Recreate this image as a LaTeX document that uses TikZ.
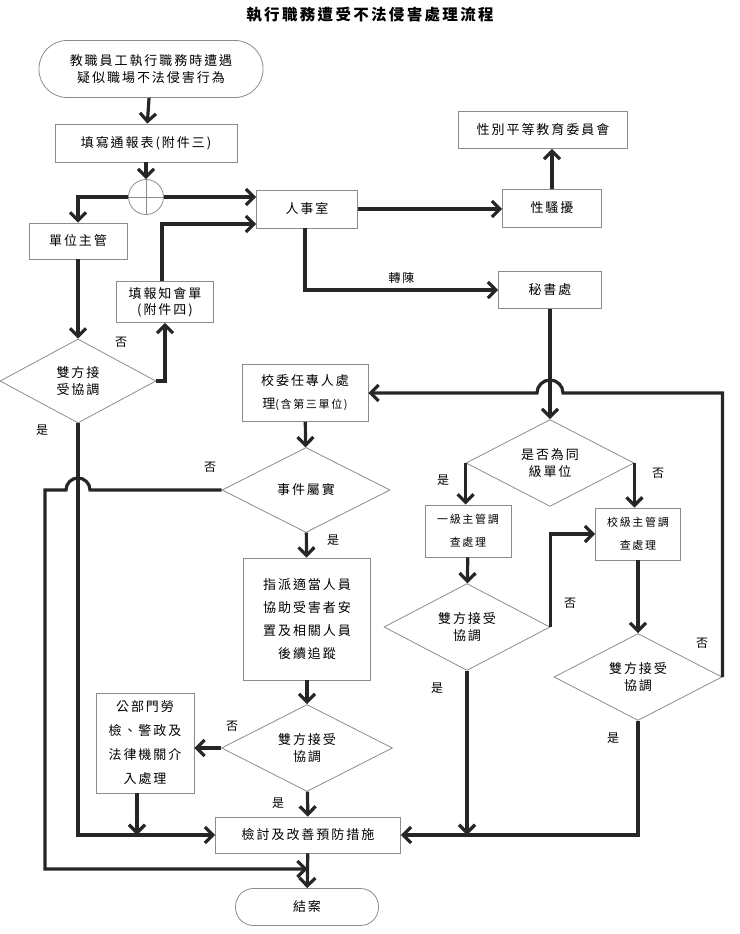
\documentclass[tikz,border=0pt]{standalone}
\usepackage{fontspec}
\setmainfont{Noto Sans CJK TC}[LetterSpace=15]
\usetikzlibrary{arrows.meta, shapes.geometric, calc}

\begin{document}
\begin{tikzpicture}[x=1pt, y=-1pt,
    box/.style={draw=black!45, line width=0.8pt, rectangle, align=center, inner sep=2pt, font=\fontsize{13}{17}\selectfont},
    term/.style={box, rounded corners=18pt},
    choice/.style={draw=black!45, line width=0.8pt, diamond, align=center, inner sep=0pt, font=\fontsize{13}{17}\selectfont},
    flow/.style={draw=black!85, line width=3.2pt, -{Straight Barb[length=8pt, width=16pt]}},
    tag/.style={font=\fontsize{12}{14}\selectfont}]
    \useasboundingbox (0,0) rectangle (739,934);

    % Title
    \node[font=\bfseries\fontsize{15.5}{18}\selectfont] (title) at (370,15) {執行職務遭受不法侵害處理流程};

    % Top part
    \node[term, rounded corners=28pt, minimum width=224, minimum height=57] (start) at (151,69) {教職員工執行職務時遭遇\\疑似職場不法侵害行為};
    \node[box, minimum width=182, minimum height=38] (report) at (146,143) {填寫通報表(附件三)};
    \node[circle, draw=black!45, line width=0.8pt, minimum size=35, inner sep=0pt] (sum) at (146,197) {};
    \draw[black!45, line width=0.8pt] (sum.north) -- (sum.south) (sum.west) -- (sum.east);
    \node[box, minimum width=98, minimum height=36] (unit) at (78,241) {單位主管};
    \node[box, minimum width=101, minimum height=38] (hr) at (307,209) {人事室};
    \node[box, minimum width=99, minimum height=38] (harass) at (552,208) {性騷擾};
    \node[box, minimum width=169, minimum height=37] (gec) at (543,130) {性別平等教育委員會};
    \node[box, minimum width=103, minimum height=37] (sec) at (550,290) {秘書處};
    \node[box, minimum width=97, minimum height=41, font=\fontsize{13}{16}\selectfont] (notify) at (165,302) {填報知會單\\(附件四)};
    \node[choice, minimum width=156, minimum height=84] (dec1) at (78,381) {雙方接\\受協調};

    % Middle column
    \node[box, minimum width=126, minimum height=57, font=\fontsize{13}{23}\selectfont] (school) at (305,393) {校委任專人處\\理{\fontsize{11}{23}\selectfont(含第三單位)}};
    \node[choice, minimum width=168, minimum height=85] (fact) at (306,490) {事件屬實};
    \node[box, minimum width=127, minimum height=122, font=\fontsize{13}{23}\selectfont] (assign) at (307,619) {指派適當人員\\協助受害者安\\置及相關人員\\後續追蹤};
    \node[choice, minimum width=171, minimum height=84] (dec3) at (307,748) {雙方接受\\協調};
    \node[box, minimum width=98, minimum height=100, font=\fontsize{13}{24}\selectfont] (public) at (145,743) {公部門勞\\檢、警政及\\法律機關介\\入處理};
    \node[box, minimum width=185, minimum height=36] (review) at (308,835) {檢討及改善預防措施};
    \node[term, minimum width=143, minimum height=37] (close) at (307,907) {結案};

    % Right part
    \node[choice, minimum width=168, minimum height=84] (same) at (550,463) {是否為同\\級單位};
    \node[box, minimum width=86, minimum height=52, font=\fontsize{11}{23}\selectfont] (lvl1) at (468,531) {一級主管調\\查處理};
    \node[box, minimum width=85, minimum height=52, font=\fontsize{11}{23}\selectfont] (lvlS) at (638,534) {校級主管調\\查處理};
    \node[choice, minimum width=166, minimum height=83] (dec4) at (467,627) {雙方接受\\協調};
    \node[choice, minimum width=168, minimum height=84] (dec5) at (638,677) {雙方接受\\協調};

    % Helper point
    \coordinate (tail) at ($(review.south)!0.45!(close.north)$);

    % Arrows
    \draw[flow] (start) -- (report);
    \draw[flow] (report) -- (sum);
    \draw[flow] (sum.west) -| (unit.north);
    \draw[flow] (sum.east) -- (sum.east -| hr.west);
    \draw[flow] (hr.east) -- (hr.east -| harass.west);
    \draw[flow] (harass.north) -- (harass.north |- gec.south);
    \draw[flow] ([xshift=-2pt]hr.south) |- node[tag, pos=0.75, above=2pt] (fwd) {轉陳} (sec.west);
    \draw[flow] (unit) -- (dec1);
    \draw[flow] (dec1.east) -| (notify.south);
    \draw[flow] ([xshift=-3pt]notify.north) |- ([yshift=-15pt]hr.west);
    \draw[flow] (dec1.south) |- (review.west);
    \draw[flow] (fact.west) -- ($(fact.west -| dec1.south)+(12,0)$) arc[start angle=0, end angle=180, radius=12pt] -- ++(-21,0) |- (tail);

    \draw[flow] (school) -- (fact);
    \draw[flow] (fact) -- (assign);
    \draw[flow] (assign) -- (dec3);
    \draw[flow] (dec3.west) -- (dec3.west -| public.east);
    \draw[flow] (dec3) -- (review);
    \draw[flow] ([xshift=-8pt]public.south) -- ([xshift=-8pt]public.south |- review.west);
    \draw[flow] (review) -- (close);

    \draw[flow] (sec) -- (same);
    \draw[flow] (same.west) -- (same.west |- lvl1.north);
    \draw[flow] (same.east) -- (same.east |- lvlS.north);
    \draw[flow] (lvl1) -- (dec4);
    \draw[flow] (dec4.east) |- (lvlS.west);
    \draw[flow] (dec4.south) -- (dec4.south |- review.east);
    \draw[flow] (lvlS) -- (dec5);
    \draw[flow] (dec5.south) |- (review.east);
    \draw[flow] (dec5.east) |- ($(school.east -| sec.south)+(13,0)$) arc[start angle=0, end angle=180, radius=13pt] -- (school.east);

    % Labels
    \node[tag] (no1) at (121,342) {否};
    \node[tag] (yes1) at (42,430) {是};
    \node[tag] (no2) at (210,467) {否};
    \node[tag] (yes2) at (333,540) {是};
    \node[tag] (no3) at (232,726) {否};
    \node[tag] (yes3) at (278,803) {是};
    \node[tag] (yes4) at (443,480) {是};
    \node[tag] (no4) at (658,473) {否};
    \node[tag] (no5) at (570,603) {否};
    \node[tag] (yes5) at (437,688) {是};
    \node[tag] (no6) at (702,643) {否};
    \node[tag] (yes6) at (613,738) {是};
\end{tikzpicture}
\end{document}
